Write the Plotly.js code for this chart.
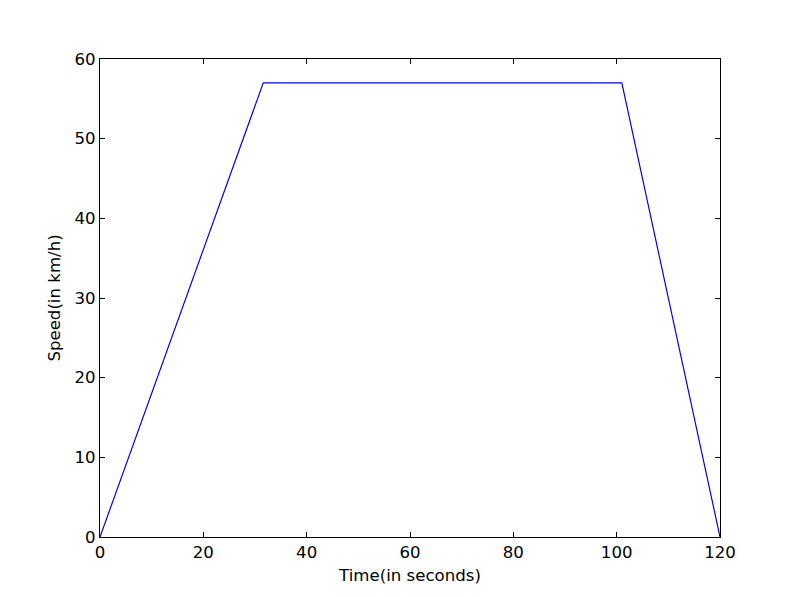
<!DOCTYPE html>
<html>
<head>
<meta charset="utf-8">
<script src="https://cdn.plot.ly/plotly-3.0.1.min.js"></script>
<style>html,body{margin:0;padding:0;background:#fff;}#chart{width:800px;height:597px;}</style>
</head>
<body>
<div id="chart"></div>
<script>
const timeSeconds = [0, 31.6, 101, 120];
const speedKmh = [0, 57, 57, 0];
const xTicks = [0, 20, 40, 60, 80, 100, 120];
const yTicks = [0, 10, 20, 30, 40, 50, 60];

const axisCommon = {
  showgrid: false, zeroline: false, showline: true, linecolor: '#000', linewidth: 1,
  mirror: 'ticks', ticks: 'inside', ticklen: 5, tickcolor: '#000', tickwidth: 1,
  tickfont: {family: 'DejaVu Sans', size: 16.6, color: '#000'}
};

Plotly.newPlot('chart', [{
  x: timeSeconds, y: speedKmh, mode: 'lines', type: 'scatter',
  line: {color: '#0000ff', width: 1.2}, hoverinfo: 'skip'
}], {
  width: 800, height: 597,
  margin: {l: 100, r: 80, t: 59, b: 60},
  paper_bgcolor: '#fff', plot_bgcolor: '#fff',
  showlegend: false,
  xaxis: Object.assign({}, axisCommon, {
    range: [0, 120], tickvals: xTicks, ticktext: xTicks.map(String),
    title: {text: 'Time(in seconds)', font: {family: 'DejaVu Sans', size: 16.6, color: '#000'}, standoff: 8}
  }),
  yaxis: Object.assign({}, axisCommon, {
    range: [0, 60], tickvals: yTicks, ticktext: yTicks.map(String),
    title: {text: 'Speed(in km/h)', font: {family: 'DejaVu Sans', size: 16.6, color: '#000'}, standoff: 9}
  })
}, {displayModeBar: false, staticPlot: true});
</script>
</body>
</html>
